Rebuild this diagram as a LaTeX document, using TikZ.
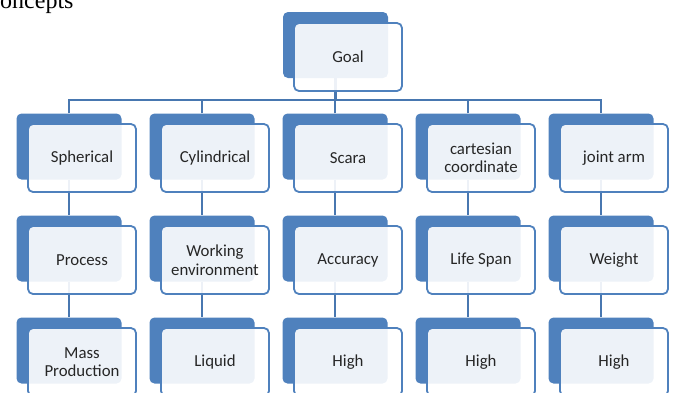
\documentclass[tikz,border=0pt]{standalone}
\usepackage{fontspec}
\setmainfont{Carlito}
\newfontfamily\serifc{Liberation Serif}
\usetikzlibrary{positioning, calc}
\definecolor{boxblue}{HTML}{4F81BD}
\definecolor{lineblue}{HTML}{4877B0}
\definecolor{txtgray}{HTML}{262626}

\begin{document}
\begin{tikzpicture}[x=1pt, y=-1pt,
	backbox/.style={fill=boxblue, rounded corners=5pt, minimum width=105pt, minimum height=66pt, inner sep=0pt},
	frontbox/.style={draw=boxblue, line width=1.8pt, fill=white, fill opacity=0.9, text opacity=1,
		rounded corners=5pt, minimum width=108pt, minimum height=68pt, inner sep=0pt,
		align=center, text=txtgray, font=\fontsize{16.8}{18.5}\selectfont},
	link/.style={draw=lineblue, line width=2.4pt}]
	\useasboundingbox (0,0) rectangle (676,392);
	\node[anchor=base west, inner sep=0pt, font=\serifc\fontsize{24}{24}\selectfont] (title) at (-16,8) {Concepts};

	% back boxes
	\node[backbox] (goal-b) at (335.5,45) {};
	\foreach \i in {1,...,5}
		\foreach \j/\y in {1/146.5, 2/248.5, 3/350.5}
			\node[backbox] (b\i\j) at ({69+133*(\i-1)},\y) {};

	% links
	\coordinate (bus) at (0,100);
	\draw[link] (goal-b.south) -- (goal-b.south |- bus);
	\draw[link] (b11.north) |- (b51.north |- bus) -- (b51.north);
	\foreach \i in {2,3,4}
		\draw[link] (b\i1.north) -- (b\i1.north |- bus);
	\foreach \i in {1,...,5} {
		\draw[link] (b\i1.south) -- (b\i2.north);
		\draw[link] (b\i2.south) -- (b\i3.north);
	}

	% front boxes
	\node[frontbox] (goal) at (348,57) {Goal};
	\foreach \i/\ta/\tb/\tc in {1/Spherical/Process/{Mass\\Production},
		2/Cylindrical/{Working\\environment}/Liquid,
		3/Scara/Accuracy/High,
		4/{cartesian\\coordinate}/Life Span/High,
		5/joint arm/Weight/High} {
		\node[frontbox] (f\i1) at ({82+133*(\i-1)},158) {\ta};
		\node[frontbox] (f\i2) at ({82+133*(\i-1)},260) {\tb};
		\node[frontbox] (f\i3) at ({82+133*(\i-1)},362) {\tc};
	}
\end{tikzpicture}
\end{document}
